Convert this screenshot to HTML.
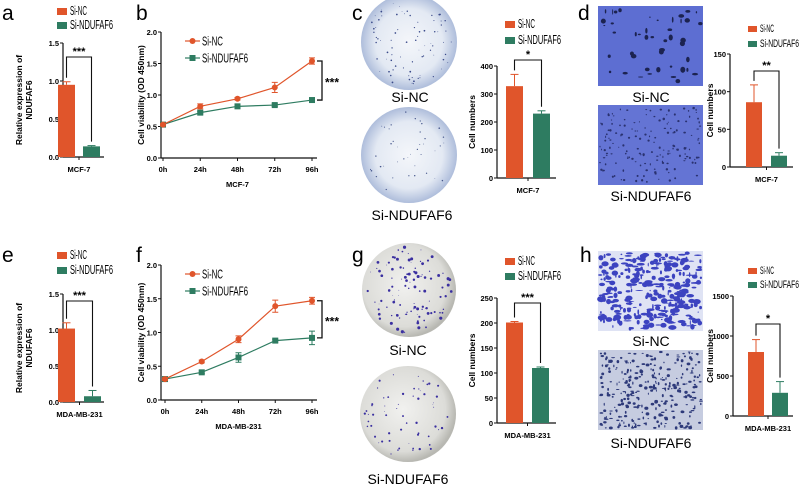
<!DOCTYPE html>
<html><head><meta charset="utf-8">
<style>
html,body{margin:0;padding:0;background:#fff;}
svg{display:block;font-family:"Liberation Sans",sans-serif;}
.lbl{font-family:"Liberation Sans",sans-serif;font-size:21px;}
.tk{font-size:7.5px;font-weight:bold;}
.ttl{font-size:8.5px;font-weight:bold;font-family:"Liberation Sans",sans-serif;}
.cap{font-family:"Liberation Sans",sans-serif;font-size:14px;}
</style></head>
<body>
<svg id="fig" width="800" height="489" viewBox="0 0 800 489" xmlns="http://www.w3.org/2000/svg">
<defs>
<radialGradient id="plateBlue" cx="50%" cy="50%" r="50%"><stop offset="0" stop-color="#f4f6fa"/><stop offset="0.7" stop-color="#e3e9f3"/><stop offset="1" stop-color="#aebddb"/></radialGradient>
<radialGradient id="plateGrey" cx="45%" cy="45%" r="55%"><stop offset="0" stop-color="#f1f1ef"/><stop offset="0.8" stop-color="#dcdcd8"/><stop offset="1" stop-color="#b8b8b2"/></radialGradient>
</defs>
</svg>
<script>
// ---- data ----
const groups=['Si-NC','Si-NDUFAF6'];
const aVals=[0.95,0.14], aErr=[0.04,0.01], aTicks=[0,0.5,1.0,1.5];
const eVals=[1.02,0.08], eErr=[0.08,0.08], eTicks=[0,0.5,1.0,1.5];
const times=['0h','24h','48h','72h','96h'];
const bNC=[0.53,0.82,0.94,1.12,1.54], bNCerr=[0.02,0.04,0.02,0.08,0.05];
const bND=[0.53,0.72,0.82,0.84,0.92], bNDerr=[0.02,0.02,0.02,0.02,0.02];
const fNC=[0.31,0.57,0.90,1.39,1.47], fNCerr=[0.02,0.02,0.05,0.09,0.05];
const fND=[0.31,0.41,0.63,0.88,0.92], fNDerr=[0.02,0.02,0.07,0.02,0.10];
const lineTicks=[0,0.5,1.0,1.5,2.0];
const cVals=[328,230], cErr=[42,10], cTicks=[0,100,200,300,400];
const dVals=[86,15], dErr=[23,4], dTicks=[0,50,100,150];
const gVals=[201,110], gErr=[2,2], gTicks=[0,50,100,150,200,250];
const hVals=[800,290], hErr=[155,140], hTicks=[0,500,1000,1500];

const NS='http://www.w3.org/2000/svg';
const svg=document.getElementById('fig');
const OR='#e0552b', GR='#2e7c61';
function mk(tag,at,parent){const e=document.createElementNS(NS,tag);for(const k in at)e.setAttribute(k,at[k]);(parent||svg).appendChild(e);return e;}
function txt(s,at,parent){const e=mk('text',at,parent);e.textContent=s;return e;}
function fmt(v,dec){return dec?v.toFixed(1):String(v);}

function legend(x,y1,y2,sz,fs,w1,w2,name){
  const g=mk('g',{});
  
  
  const r1=mk('rect',{x:x,y:y1,width:sz+3,height:sz,fill:OR},g);
  
  
  const t1=txt(groups[0],{x:x+sz+6,y:y1+sz,'font-size':fs,textLength:w1,lengthAdjust:'spacingAndGlyphs'},g);
  
  
  const r2=mk('rect',{x:x,y:y2,width:sz+3,height:sz,fill:GR},g);
  
  
  const t2=txt(groups[1],{x:x+sz+6,y:y2+sz,'font-size':fs,textLength:w2,lengthAdjust:'spacingAndGlyphs'},g);
  
  
}

function barChart(c,vals,errs,ticks){
  const g=mk('g',{});
  
  
  const vmax=ticks[ticks.length-1];
  const y=v=>c.yBot-(v/vmax)*(c.yBot-c.yTop);
  const ax=mk('line',{x1:c.axX,y1:c.yTop,x2:c.axX,y2:c.yBot,stroke:'#111','stroke-width':1.2},g);
  
  
  const tfs=c.tfs||7.5;
  ticks.forEach(t=>{
    mk('line',{x1:c.axX-3,y1:y(t),x2:c.axX,y2:y(t),stroke:'#111','stroke-width':1},g);
    const tl=txt(fmt(t,c.dec),{x:c.axX-4,y:y(t)+3,'text-anchor':'end',class:'tk','font-size':tfs},g);
    
    
  });
  const xa=mk('line',{x1:c.axX,y1:c.yBot,x2:c.xEnd,y2:c.yBot,stroke:'#111','stroke-width':1.2},g);
  
  
  const mid=(c.bx[0]+c.bx[1]+c.bw)/2;
  mk('line',{x1:mid,y1:c.yBot,x2:mid,y2:c.yBot+3,stroke:'#111'},g);
  const xl=txt(c.xlabel,{x:mid,y:c.yBot+15,'text-anchor':'middle',class:'tk','font-size':8},g);
  
  
  const yt=txt(c.ytitle[0],{transform:`translate(${c.ytX},${(c.yTop+c.yBot)/2}) rotate(-90)`,'text-anchor':'middle',class:'ttl'},g);
  
  
  if(c.ytitle[1]){const y2=txt(c.ytitle[1],{transform:`translate(${c.ytX+10},${(c.yTop+c.yBot)/2}) rotate(-90)`,'text-anchor':'middle',class:'ttl'},g);
    
    }
  const cols=[OR,GR];
  vals.forEach((v,i)=>{
    const cx=c.bx[i]+c.bw/2;
    const eb=mk('g',{},g);
    
    
    mk('line',{x1:cx,y1:y(v),x2:cx,y2:y(v+errs[i]),stroke:cols[i],'stroke-width':1},eb);
    mk('line',{x1:cx-4,y1:y(v+errs[i]),x2:cx+4,y2:y(v+errs[i]),stroke:cols[i],'stroke-width':1},eb);
    const r=mk('rect',{x:c.bx[i],y:y(v),width:c.bw,height:c.yBot-y(v),fill:cols[i]},g);
    
    
  });
  const x1=c.bx[0]+c.bw/2, x2=c.bx[1]+c.bw/2;
  const br=mk('path',{d:`M${x1},${y(vals[0]+errs[0])-4} V${c.sigY} H${x2} V${y(vals[1]+errs[1])-4}`,fill:'none',stroke:'#111','stroke-width':1.1},g);
  
  
  const st=txt(c.sig,{x:(x1+x2)/2,y:c.sigY-2,'text-anchor':'middle','font-size':11,'font-weight':'bold'},g);
  
  
}

function lineChart(c,nc,ncE,nd,ndE){
  const g=mk('g',{});
  
  
  const vmax=lineTicks[lineTicks.length-1];
  const y=v=>c.yBot-(v/vmax)*(c.yBot-c.yTop);
  const x=i=>c.x0+i*(c.x4-c.x0)/(times.length-1);
  const ax=mk('line',{x1:c.axX,y1:c.yTop,x2:c.axX,y2:c.yBot,stroke:'#111','stroke-width':1.2},g);
  
  
  lineTicks.forEach(t=>{
    mk('line',{x1:c.axX-3,y1:y(t),x2:c.axX,y2:y(t),stroke:'#111'},g);
    const tl=txt(t.toFixed(1),{x:c.axX-4,y:y(t)+3,'text-anchor':'end',class:'tk'},g);
    
    
  });
  const xa=mk('line',{x1:c.axX,y1:c.yBot,x2:c.x4+5,y2:c.yBot,stroke:'#111','stroke-width':1.2},g);
  
  
  times.forEach((t,i)=>{
    mk('line',{x1:x(i),y1:c.yBot,x2:x(i),y2:c.yBot+3,stroke:'#111'},g);
    const tl=txt(t,{x:x(i),y:c.yBot+14,'text-anchor':'middle',class:'tk','font-size':8},g);
    
    
  });
  const xl=txt(c.xlabel,{x:(c.x0+c.x4)/2,y:c.yBot+29,'text-anchor':'middle',class:'tk','font-size':8.5},g);
  
  
  const yt=txt('Cell viability (OD 450nm)',{transform:`translate(${c.axX-17},${(c.yTop+c.yBot)/2}) rotate(-90)`,'text-anchor':'middle',class:'ttl','font-size':10},g);
  
  
  [[nd,ndE,GR,'si-ndufaf6'],[nc,ncE,OR,'si-nc']].forEach(([s,e,col,nm])=>{
    const p=mk('polyline',{points:s.map((v,i)=>x(i)+','+y(v)).join(' '),fill:'none',stroke:col,'stroke-width':1.2},g);
    
    
    s.forEach((v,i)=>{
      const eb=mk('path',{d:`M${x(i)-3},${y(v+e[i])} H${x(i)+3} M${x(i)},${y(v+e[i])} V${y(v-e[i])} M${x(i)-3},${y(v-e[i])} H${x(i)+3}`,stroke:col,'stroke-width':1,fill:'none'},g);
      
      
      let m;
      if(col===OR) m=mk('circle',{cx:x(i),cy:y(v),r:3,fill:col},g);
      else m=mk('rect',{x:x(i)-3,y:y(v)-3,width:6,height:6,fill:col},g);
      
      
    });
  });
  const lg=mk('g',{},g);
  
  
  mk('line',{x1:c.lgX,y1:c.lgY,x2:c.lgX+15,y2:c.lgY,stroke:OR,'stroke-width':1.2},lg);
  mk('circle',{cx:c.lgX+7.5,cy:c.lgY,r:3,fill:OR},lg);
  txt(groups[0],{x:c.lgX+17,y:c.lgY+4.5,'font-size':13,textLength:21,lengthAdjust:'spacingAndGlyphs'},lg);
  mk('line',{x1:c.lgX,y1:c.lgY+17,x2:c.lgX+15,y2:c.lgY+17,stroke:GR,'stroke-width':1.2},lg);
  mk('rect',{x:c.lgX+4.5,y:c.lgY+14,width:6,height:6,fill:GR},lg);
  txt(groups[1],{x:c.lgX+17,y:c.lgY+21.5,'font-size':13,textLength:46,lengthAdjust:'spacingAndGlyphs'},lg);
  const last=times.length-1;
  const b=mk('path',{d:`M${c.x4+5},${y(nc[last])} H${c.x4+10} V${y(nd[last])} H${c.x4+5}`,fill:'none',stroke:'#111','stroke-width':1.3},g);
  
  
  const st=txt('***',{x:c.x4+13,y:(y(nc[last])+y(nd[last]))/2+6,'font-size':12,'font-weight':'bold'},g);
  
  
}

// decorative texture generator (not chart data)
let seed=7;function rnd(){seed=(seed*16807)%2147483647;return seed/2147483647;}
function plate(cx,cy,r,fill,dotCol,n,maxR,name){
  const g=mk('g',{});
  
  
  mk('circle',{cx,cy,r,fill},g);
  for(let i=0;i<n;i++){const a=rnd()*6.283,d=Math.sqrt(rnd())*(r-4);
    mk('circle',{cx:cx+Math.cos(a)*d,cy:cy+Math.sin(a)*d,r:0.3+rnd()*maxR,fill:dotCol},g);}
}
function field(x,y,w,h,bg,dotCol,n,maxR,name,stretch){
  const g=mk('g',{});
  
  
  mk('rect',{x,y,width:w,height:h,fill:bg},g);
  for(let i=0;i<n;i++){
    mk('ellipse',{cx:x+2+rnd()*(w-4),cy:y+2+rnd()*(h-4),rx:0.5+rnd()*maxR*(stretch||1),ry:0.5+rnd()*maxR,fill:dotCol},g);}
}
function cap(s,x,y,name){const t=txt(s,{x,y,'text-anchor':'middle',class:'cap'});}
function panel(s,x,y){const t=txt(s,{x,y,class:'lbl'});}

// ---- panels ----
panel('a',2,20);panel('b',136,20);panel('c',352,20);panel('d',578,20);
panel('e',2,262);panel('f',136,262);panel('g',352,262);panel('h',580,262);

legend(57,8,22,7,12.5,17,43,'legend-a');
barChart({name:'chart-a',axX:63,yTop:43,yBot:157,xEnd:104,bx:[58,83],bw:17,dec:true,xlabel:'MCF-7',ytitle:['Relative expression of','NDUFAF6'],ytX:22,sig:'***',sigY:57},aVals,aErr,aTicks);
lineChart({name:'chart-b',axX:161,yTop:32,yBot:158,x0:163,x4:312,xlabel:'MCF-7',lgX:185,lgY:41},bNC,bNCerr,bND,bNDerr);

plate(409,42,48,'url(#plateBlue)','#3a4a8a',80,0.6,'plate-c-si-nc');
cap('Si-NC',410,102,'caption-c-si-nc');
plate(409,155,48,'url(#plateBlue)','#44558a',40,0.5,'plate-c-si-ndufaf6');
cap('Si-NDUFAF6',412,220,'caption-c-si-ndufaf6');
legend(505,21,37,7,12.5,17,43,'legend-c');
barChart({name:'chart-c',axX:497,yTop:66,yBot:178,xEnd:556,bx:[506,533],bw:17,xlabel:'MCF-7',ytitle:['Cell numbers'],ytX:475,sig:'*',sigY:60},cVals,cErr,cTicks);

field(598,6,105,80,'#5d6ed2','#1c2350',45,2.6,'image-d-si-nc');
cap('Si-NC',651,102,'caption-d-si-nc');
field(598,105,105,80,'#6474d4','#2a3270',160,0.8,'image-d-si-ndufaf6');
cap('Si-NDUFAF6',651,201,'caption-d-si-ndufaf6');
legend(748,26,41,6,11,14,39,'legend-d');
barChart({name:'chart-d',axX:730,yTop:54,yBot:167,xEnd:793,bx:[746,771],bw:16,tfs:6.5,xlabel:'MCF-7',ytitle:['Cell numbers'],ytX:713,sig:'**',sigY:71},dVals,dErr,dTicks);

legend(57,252,267,7,12.5,17,43,'legend-e');
barChart({name:'chart-e',axX:63,yTop:294,yBot:402,xEnd:104,bx:[58,84],bw:17,dec:true,xlabel:'MDA-MB-231',ytitle:['Relative expression of','NDUFAF6'],ytX:22,sig:'***',sigY:301},eVals,eErr,eTicks);
lineChart({name:'chart-f',axX:161,yTop:265,yBot:400,x0:165,x4:312,xlabel:'MDA-MB-231',lgX:185,lgY:274},fNC,fNCerr,fND,fNDerr);

plate(409,290,47,'url(#plateGrey)','#3a2fa0',110,1.3,'plate-g-si-nc');
cap('Si-NC',408,355,'caption-g-si-nc');
plate(408,414,48,'url(#plateGrey)','#3a2fa0',60,0.9,'plate-g-si-ndufaf6');
cap('Si-NDUFAF6',408,484,'caption-g-si-ndufaf6');
legend(505,258,273,7,12.5,17,43,'legend-g');
barChart({name:'chart-g',axX:497,yTop:298,yBot:423,xEnd:556,bx:[506,532],bw:17,xlabel:'MDA-MB-231',ytitle:['Cell numbers'],ytX:475,sig:'***',sigY:303},gVals,gErr,gTicks);

field(598,251,105,80,'#dfe3f4','#3c43c0',330,2.3,'image-h-si-nc',1.6);
cap('Si-NC',651,346,'caption-h-si-nc');
field(598,350,105,80,'#c6cce0','#2e3a7a',300,1.2,'image-h-si-ndufaf6',1.3);
cap('Si-NDUFAF6',651,448,'caption-h-si-ndufaf6');
legend(748,268,282,6,11,14,39,'legend-h');
barChart({name:'chart-h',axX:733,yTop:296,yBot:416,xEnd:793,bx:[748,772],bw:16,tfs:6.5,xlabel:'MDA-MB-231',ytitle:['Cell numbers'],ytX:713,sig:'*',sigY:324},hVals,hErr,hTicks);
</script>
</body></html>
